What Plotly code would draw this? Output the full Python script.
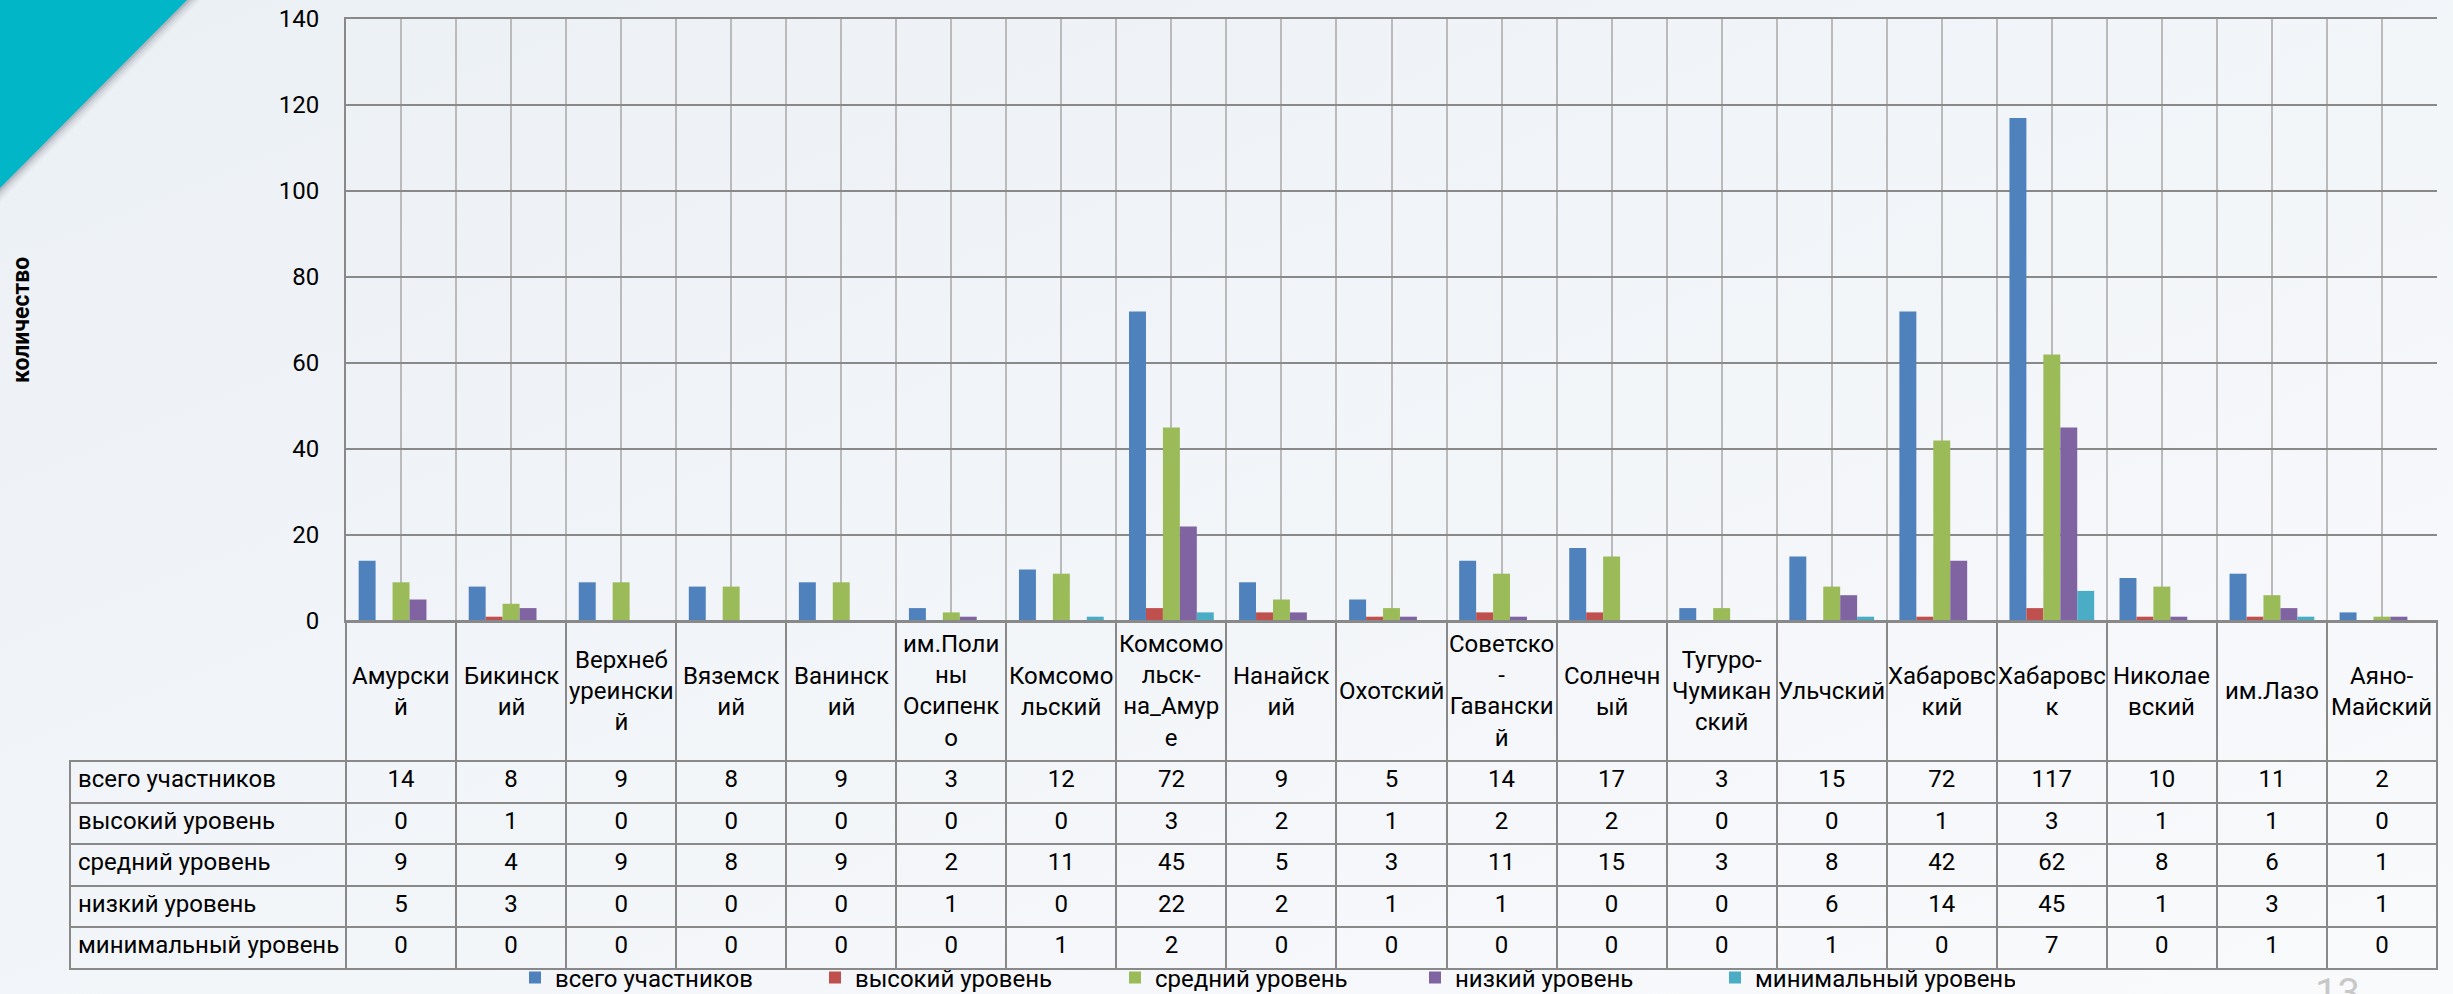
import base64
import plotly.graph_objects as go

W, H = 2453, 994

# районы
districts = ["Амурский", "Бикинский", "Верхнебуреинский", "Вяземский", "Ванинский",
             "им.Полины Осипенко", "Комсомольский", "Комсомольск-на_Амуре", "Нанайский",
             "Охотский", "Советско-Гаванский", "Солнечный", "Тугуро-Чумиканский",
             "Ульчский", "Хабаровский", "Хабаровск", "Николаевский", "им.Лазо", "Аяно-Майский"]
# как они переносятся в шапке таблицы
district_labels = ["Амурски<br>й", "Бикинск<br>ий", "Верхнеб<br>уреински<br>й", "Вяземск<br>ий",
                   "Ванинск<br>ий", "им.Поли<br>ны<br>Осипенк<br>о", "Комсомо<br>льский",
                   "Комсомо<br>льск-<br>на_Амур<br>е", "Нанайск<br>ий", "Охотский",
                   "Советско<br>-<br>Гавански<br>й", "Солнечн<br>ый", "Тугуро-<br>Чумикан<br>ский",
                   "Ульчский", "Хабаровс<br>кий", "Хабаровс<br>к", "Николае<br>вский",
                   "им.Лазо", "Аяно-<br>Майский"]

series_names = ["всего участников", "высокий уровень", "средний уровень",
                "низкий уровень", "минимальный уровень"]
total = [14, 8, 9, 8, 9, 3, 12, 72, 9, 5, 14, 17, 3, 15, 72, 117, 10, 11, 2]
high = [0, 1, 0, 0, 0, 0, 0, 3, 2, 1, 2, 2, 0, 0, 1, 3, 1, 1, 0]
middle = [9, 4, 9, 8, 9, 2, 11, 45, 5, 3, 11, 15, 3, 8, 42, 62, 8, 6, 1]
low = [5, 3, 0, 0, 0, 1, 0, 22, 2, 1, 1, 0, 0, 6, 14, 45, 1, 3, 1]
minimal = [0, 0, 0, 0, 0, 0, 1, 2, 0, 0, 0, 0, 0, 1, 0, 7, 0, 1, 0]
series_values = [total, high, middle, low, minimal]
colors = ["#4f81bd", "#c0504d", "#9bbb59", "#8064a2", "#4bacc6"]

y_ticks = [0, 20, 40, 60, 80, 100, 120, 140]
y_title = "количество"
page_number = "13"

FONT = "Roboto, 'Noto Sans', sans-serif"
GRID_DARK = "#898989"
GRID_LIGHT = "#bababa"


def fx(x):
    return x / W


def fy(y):
    return 1 - y / H


# plot / table frame in page pixels
PL, PR, PT, PB = 346, 2437, 19, 621
TL, TB = 70, 969
HEAD_H = 140
ROW_H = (TB - PB - HEAD_H) / 5

xs = list(range(len(districts)))

fig = go.Figure()
for name, vals, col in zip(series_names, series_values, colors):
    fig.add_trace(go.Bar(x=xs, y=vals, name=name, marker_color=col,
                         marker_line_width=0, hovertext=districts))

# data table under the chart (nbsp keeps row names on one line)
col_w = [PL - TL] + [(PR - PL) / len(districts)] * len(districts)
row_names = [s.replace(" ", "\u00a0") for s in series_names]
cell_cols = [row_names] + [[s[i] for s in series_values] for i in xs]
fig.add_trace(go.Table(
    domain=dict(x=[fx(TL), fx(PR)], y=[fy(TB + 4), fy(PB)]),
    columnwidth=col_w,
    header=dict(values=[""] * (len(districts) + 1), height=HEAD_H,
                fill_color="rgba(0,0,0,0)",
                line=dict(color=["rgba(0,0,0,0)"] + [GRID_DARK] * len(districts), width=2)),
    cells=dict(values=cell_cols, height=ROW_H,
               align=["left"] + ["center"] * len(districts),
               fill_color="rgba(0,0,0,0)",
               line=dict(color=GRID_DARK, width=2),
               font=dict(family=FONT, size=24, color="black")),
))

for i, lab in enumerate(district_labels):
    fig.add_annotation(x=i, xref="x", y=fy(PB + HEAD_H / 2), yref="paper",
                       text=lab, showarrow=False, xanchor="center", yanchor="middle",
                       font=dict(family=FONT, size=24, color="black"))

fig.add_annotation(x=fx(21), y=fy((PT + PB) / 2), xref="paper", yref="paper",
                   text="<b>" + y_title + "</b>", textangle=-90, showarrow=False,
                   xanchor="center", yanchor="middle",
                   font=dict(family=FONT, size=23, color="black"))

fig.add_annotation(x=fx(2337), y=fy(968), xref="paper", yref="paper",
                   text=page_number, showarrow=False, xanchor="center", yanchor="top",
                   font=dict(family=FONT, size=40, color="#c8c8c8"))

# teal corner with a soft shadow
for d, op in [(14, 0.04), (11, 0.06), (8, 0.09), (5, 0.12), (3, 0.15)]:
    fig.add_shape(type="path", xref="paper", yref="paper", layer="below",
                  path=f"M 0 1 L {fx(187 + d)} 1 L 0 {fy(188 + d)} Z",
                  fillcolor=f"rgba(90,90,110,{op})", line_width=0)
fig.add_shape(type="path", xref="paper", yref="paper", layer="below",
              path=f"M 0 1 L {fx(187)} 1 L 0 {fy(188)} Z",
              fillcolor="#01b7c7", line_width=0)

bg_svg = ('<svg xmlns="http://www.w3.org/2000/svg" width="100" height="100" preserveAspectRatio="none">'
          '<defs><linearGradient id="g" x1="0" y1="0" x2="1" y2="1">'
          '<stop offset="0" stop-color="#ebf0f5"/><stop offset="1" stop-color="#f9fafc"/>'
          '</linearGradient></defs><rect width="100" height="100" fill="url(#g)"/></svg>')
fig.add_layout_image(source="data:image/svg+xml;base64," + base64.b64encode(bg_svg.encode()).decode(),
                     xref="paper", yref="paper", x=0, y=1, sizex=1, sizey=1,
                     sizing="stretch", layer="below", xanchor="left", yanchor="top")

fig.update_layout(
    width=W, height=H,
    margin=dict(l=0, r=0, t=0, b=0, autoexpand=False),
    paper_bgcolor="#f1f4f8", plot_bgcolor="rgba(0,0,0,0)",
    barmode="group", bargap=0.23, bargroupgap=0,
    font=dict(family=FONT, size=24, color="black"),
    showlegend=True,
    legend=dict(orientation="h", x=fx(515), xanchor="left", y=fy(978), yanchor="middle",
                font=dict(family=FONT, size=24), bgcolor="rgba(0,0,0,0)",
                entrywidth=255, entrywidthmode="pixels"),
    xaxis=dict(domain=[fx(PL), fx(PR)], range=[-0.5, len(districts) - 0.5],
               tickmode="linear", tick0=-0.5, dtick=0.5, showticklabels=False,
               showgrid=True, gridcolor=GRID_LIGHT, gridwidth=2, zeroline=False,
               showline=True, mirror=True, linecolor=GRID_DARK, linewidth=2),
    yaxis=dict(domain=[fy(PB), fy(PT)], range=[0, 140], tickvals=y_ticks,
               showgrid=True, gridcolor=GRID_DARK, gridwidth=2,
               zeroline=True, zerolinecolor=GRID_DARK, zerolinewidth=3,
               showline=True, linecolor=GRID_DARK, linewidth=2,
               ticks="", ticklabelstandoff=20, tickfont=dict(family=FONT, size=24)),
)

# pin the figure to the top-left corner of the page (no body margin)
pin = ("document.body.style.margin='0';"
       "var d=document.getElementById('{plot_id}');"
       "d.style.position='absolute';d.style.left='0px';d.style.top='0px';")
fig.write_html("out.html", post_script=pin, config={"displayModeBar": False})
